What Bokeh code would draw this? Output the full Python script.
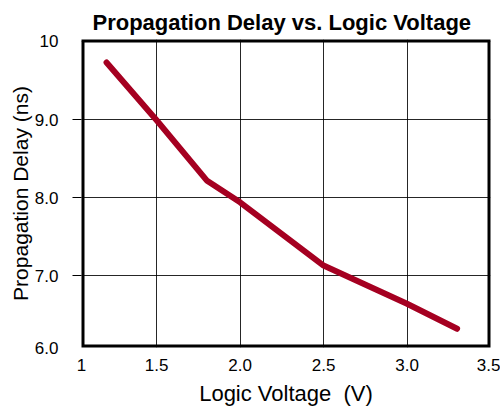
from bokeh.plotting import figure
from bokeh.models import FixedTicker, Range1d, BoxAnnotation
from bokeh.embed import file_html
from bokeh.resources import INLINE

# Data
voltage = [1.2, 1.5, 1.8, 2.0, 2.5, 3.0, 3.3]
delay = [9.73, 8.99, 8.22, 7.94, 7.13, 6.64, 6.32]

x_ticks = [1.05, 1.5, 2.0, 2.5, 3.0, 3.5]
x_tick_labels = ["1", "1.5", "2.0", "2.5", "3.0", "3.5"]
y_ticks = [6.08, 7.0, 8.0, 9.0, 10.0]
y_tick_labels = ["6.0", "7.0", "8.0", "9.0", "10"]
y_inner_ticks = [7.0, 8.0, 9.0]
y_top = 10.025

FONT = "Liberation Sans"

p = figure(
    frame_width=409, frame_height=308,
    min_border_left=81, min_border_right=10, min_border_top=39, min_border_bottom=60,
    x_range=Range1d(x_ticks[0], x_ticks[-1]),
    y_range=Range1d(y_ticks[0], y_top),
    output_backend="svg", toolbar_location=None,
    title="Propagation Delay vs. Logic Voltage",
)

p.title.text_font = FONT
p.title.text_font_size = "22px"
p.title.text_font_style = "bold"
p.title.align = "left"
p.title.offset = 11
p.title.text_color = "black"
p.title.standoff = 10

p.outline_line_color = None

p.xaxis.ticker = FixedTicker(ticks=x_ticks)
p.xaxis.major_label_overrides = {t: l for t, l in zip(x_ticks, x_tick_labels)}
p.yaxis.ticker = FixedTicker(ticks=y_ticks, minor_ticks=y_inner_ticks)
p.yaxis.major_label_overrides = {t: l for t, l in zip(y_ticks, y_tick_labels)}

for ax in (p.xaxis, p.yaxis):
    ax.axis_line_color = None
    ax.major_tick_in = 0
    ax.major_tick_out = 0
    ax.minor_tick_in = 0
    ax.minor_tick_out = 0
    ax.major_label_text_font = FONT
    ax.major_label_text_font_size = "17px"
    ax.major_label_text_color = "black"
    ax.axis_label_text_font = FONT
    ax.axis_label_text_font_style = "normal"
    ax.axis_label_text_color = "black"

p.xaxis.axis_label_text_font_size = "22px"
p.yaxis.axis_label_text_font_size = "21px"

p.yaxis.minor_tick_out = 9
p.yaxis.minor_tick_line_color = "black"
p.yaxis.minor_tick_line_width = 1
p.yaxis.major_label_standoff = 14

p.xaxis.major_label_standoff = 11
p.xaxis.axis_label = "Logic Voltage \u00a0(V)"
p.xaxis.axis_label_standoff = 7
p.yaxis.axis_label = "Propagation Delay (ns)"
p.yaxis.axis_label_standoff = 0

p.xgrid.ticker = FixedTicker(ticks=x_ticks)
p.ygrid.ticker = FixedTicker(ticks=y_ticks)
p.grid.grid_line_color = "black"
p.grid.grid_line_width = 1
p.grid.grid_line_alpha = 0.85

p.line(voltage, delay, line_color="#A50021", line_width=6,
       line_cap="round", line_join="round")

# Thick frame (half of the stroke is clipped by the frame, leaving 3px inside)
p.add_layout(BoxAnnotation(fill_alpha=0, line_color="black", line_width=6, line_alpha=1.0))

open("out.html", "w").write(file_html(p, INLINE))
